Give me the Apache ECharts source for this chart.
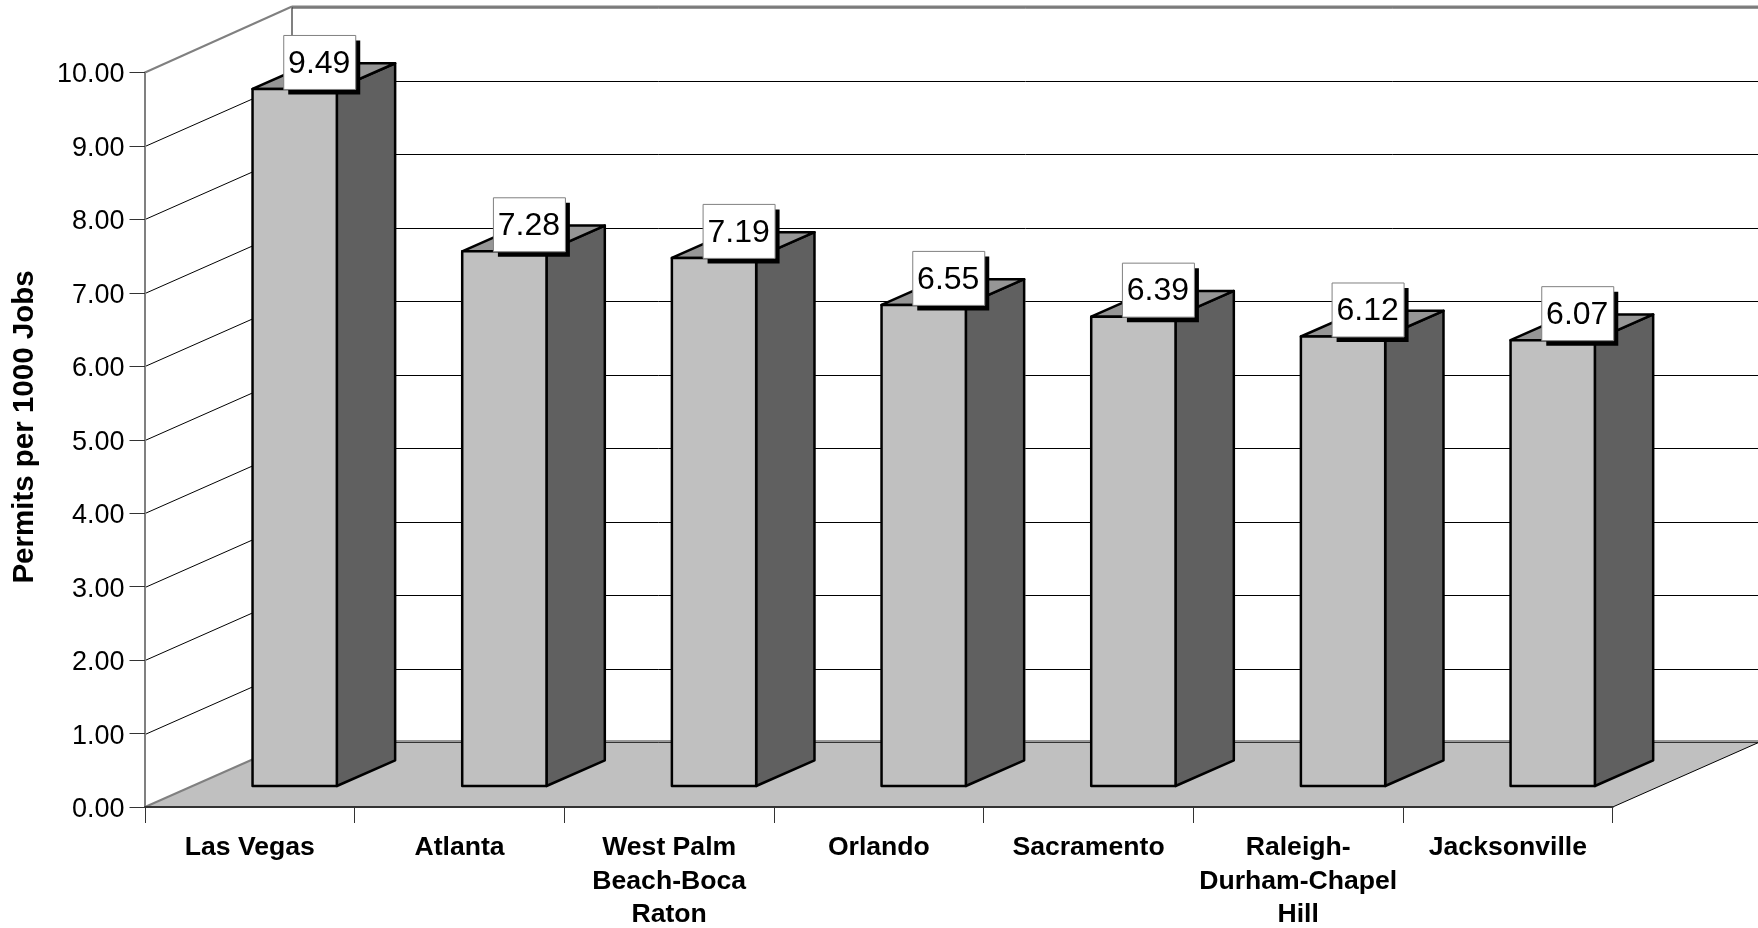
<!DOCTYPE html>
<html>
<head>
<meta charset="utf-8">
<style>html,body{margin:0;padding:0;background:#fff}#c{width:1758px;height:928px}</style>
<script src="https://cdn.jsdelivr.net/npm/echarts@6/dist/echarts.min.js"></script>
</head>
<body>
<div id="c"></div>
<script>
const categories = ['Las Vegas','Atlanta','West Palm\nBeach-Boca\nRaton','Orlando','Sacramento','Raleigh-\nDurham-Chapel\nHill','Jacksonville'];
const values = [9.49,7.28,7.19,6.55,6.39,6.12,6.07];
const yTicks = [1,2,3,4,5,6,7,8,9];
const FONT = '"Liberation Sans", Arial, sans-serif';
const DX = 147, DY = 65;

const chart = echarts.init(document.getElementById('c'), null, {renderer:'canvas'});

function line(pts, color, w){
  return {type:'polyline', shape:{points:pts}, style:{fill:null, stroke:color, lineWidth:w}, silent:true};
}

function renderFloor(params, api){
  const g = params.coordSys;
  const x0 = g.x, y0 = g.y + g.height, x1 = g.x + g.width, top = g.y;
  return {type:'group', children:[
    {type:'polygon', shape:{points:[[x0,y0],[x0+DX,y0-DY],[x1+DX,y0-DY],[x1,y0]]}, style:{fill:'#c0c0c0', stroke:null}},
    line([[x0+DX,top-DY-1],[x0+DX,y0-DY]], '#808080', 2),
    line([[x0,top],[x0+DX,top-DY-1]], '#808080', 2),
    line([[x0+DX,top-DY-1],[x1+DX+10,top-DY-1]], '#808080', 2),
    line([[x0+DX,top-DY+0.5],[x1+DX+10,top-DY+0.5]], '#333', 1),
    line([[x0,y0],[x0+DX,y0-DY]], '#808080', 2),
    line([[x0+DX,y0-DY-1],[x1+DX+10,y0-DY-1]], '#999', 2),
    line([[x0+DX,y0-DY+0.5],[x1+DX+10,y0-DY+0.5]], '#333', 1),
    line([[x1,y0],[x1+DX,y0-DY]], '#000', 1)
  ]};
}

function renderGrid(params, api){
  const g = params.coordSys;
  const y = Math.round(api.coord([0, api.value(0)])[1]) + 0.5;
  return line([[g.x,y],[g.x+DX,y-DY],[g.x+g.width+DX+10,y-DY]], '#000', 1);
}

function renderBar(params, api){
  const idx = api.value(0), v = api.value(1);
  const c = api.coord([idx, v]);
  const c0 = api.coord([idx, 0]);
  const fl = c[0] + 2.7, w = 84.3, sx = 58.3, sy = 25.7, lift = 21;
  const t = c[1] - lift, b = c0[1] - lift, fr = fl + w;
  const stroke = {stroke:'#000', lineWidth:2.5, lineJoin:'round'};
  const boxW = 72, boxH = 54, bx = fl + 66.7 - boxW/2, by = t - boxH;
  return {type:'group', children:[
    {type:'polygon', shape:{points:[[fr,t],[fr+sx,t-sy],[fr+sx,b-sy],[fr,b]]}, style:Object.assign({fill:'#606060'},stroke)},
    {type:'polygon', shape:{points:[[fl,t],[fl+sx,t-sy],[fr+sx,t-sy],[fr,t]]}, style:Object.assign({fill:'#969696'},stroke)},
    {type:'rect', shape:{x:fl,y:t,width:w,height:b-t}, style:Object.assign({fill:'#c0c0c0'},stroke)},
    {type:'rect', shape:{x:bx+5,y:by+5.5,width:boxW,height:boxH}, style:{fill:'#000'}},
    {type:'rect', shape:{x:bx+0.5,y:by+0.5,width:boxW,height:boxH}, style:{fill:'#fff', stroke:'#808080', lineWidth:1}},
    {type:'text', x:bx+boxW/2, y:by+boxH/2+2, style:{text:v.toFixed(2), fill:'#000', font:'32px '+FONT, textAlign:'center', textVerticalAlign:'middle'}}
  ]};
}

chart.setOption({
  animation:false,
  backgroundColor:'#fff',
  grid:{left:145, top:72.5, width:1467.7, height:734.5, containLabel:false, outerBoundsMode:'none'},
  xAxis:{
    type:'category', data:categories, boundaryGap:true, z:5,
    axisLine:{show:true, lineStyle:{color:'#333', width:2}},
    axisTick:{show:true, alignWithLabel:false, length:16, lineStyle:{color:'#333', width:1}},
    axisLabel:{interval:0, color:'#000', fontFamily:FONT, fontWeight:'bold', fontSize:26.6, lineHeight:33.6, margin:24}
  },
  yAxis:{
    type:'value', min:0, max:10, interval:1, z:5,
    axisLine:{show:true, lineStyle:{color:'#808080', width:2}},
    axisTick:{show:true, length:15.5, lineStyle:{color:'#333', width:1}},
    axisLabel:{margin:20.5, formatter:v=>'{t|'+v.toFixed(2)+'}',
      rich:{t:{color:'#000', fontFamily:FONT, fontSize:27, padding:[5,0,0,0]}}},
    splitLine:{show:false}
  },
  graphic:[{type:'text', x:25, y:427, rotation:Math.PI/2, style:{text:'Permits per 1000 Jobs', fill:'#000', font:'bold 29.5px '+FONT, textAlign:'center', textVerticalAlign:'middle'}}],
  series:[
    {type:'custom', z:1, coordinateSystem:'cartesian2d', data:[[0,0]], renderItem:renderFloor, silent:true, clip:false},
    {type:'custom', z:2, coordinateSystem:'cartesian2d', data:yTicks.map(v=>[v]), encode:{y:0}, renderItem:renderGrid, silent:true, clip:false},
    {type:'custom', z:3, coordinateSystem:'cartesian2d', data:values.map((v,i)=>[i,v]), encode:{x:0,y:1}, renderItem:renderBar, silent:true, clip:false}
  ]
});
</script>
</body>
</html>
